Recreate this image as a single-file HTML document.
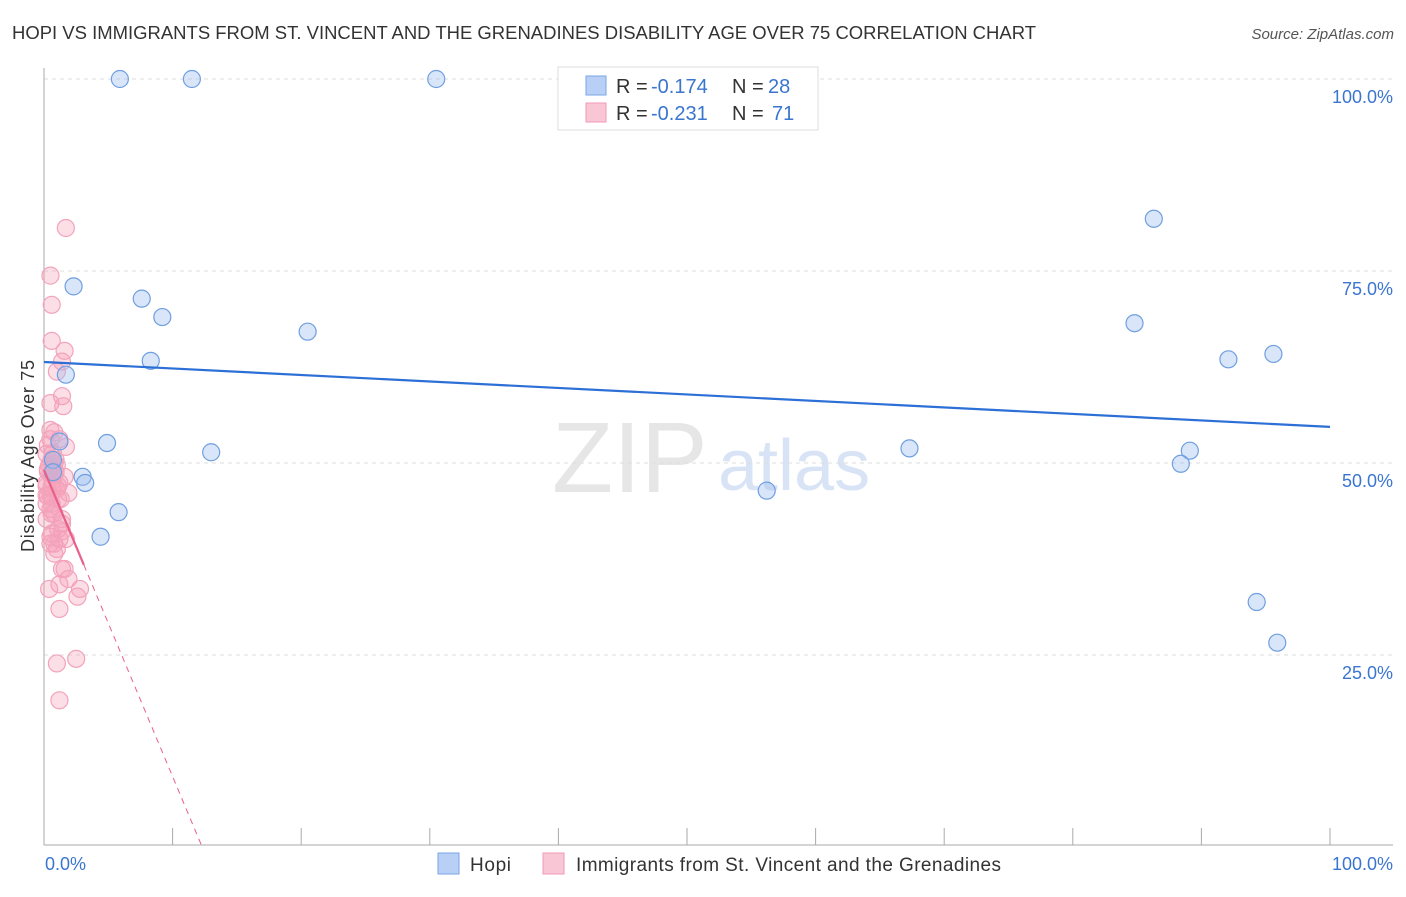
<!DOCTYPE html>
<html><head><meta charset="utf-8"><style>
body{margin:0;background:#fff;font-family:"Liberation Sans",sans-serif;}
svg text{font-family:"Liberation Sans",sans-serif;}
</style></head><body>
<svg id="c" width="1406" height="892" xmlns="http://www.w3.org/2000/svg">
<text x="12" y="39" font-size="18" fill="#333" textLength="1024" lengthAdjust="spacingAndGlyphs">HOPI VS IMMIGRANTS FROM ST. VINCENT AND THE GRENADINES DISABILITY AGE OVER 75 CORRELATION CHART</text>
<text x="1394" y="39" font-size="15" fill="#555" font-style="italic" text-anchor="end">Source: ZipAtlas.com</text>
<text x="552" y="492" font-size="100" fill="#e6e6e6" font-family="Liberation Serif">ZIP</text>
<text x="718" y="490" font-size="72" fill="#d8e4f6">atlas</text>
<g id="grid"></g>
<g id="axes"></g>
<g id="marks"></g>
<text x="34" y="456" font-size="18" fill="#333" text-anchor="middle" transform="rotate(-90 34 456)" textLength="192">Disability Age Over 75</text>
<text x="45" y="870" font-size="18" fill="#3a75d0">0.0%</text>
<text x="1393" y="870" font-size="18" fill="#3a75d0" text-anchor="end">100.0%</text>
<g>
<rect x="558" y="67" width="260" height="63" fill="#fff" stroke="#ddd"/>
<rect x="586" y="76" width="20" height="19" fill="#b8d0f5" stroke="#7aa6e6"/>
<text x="616" y="93" font-size="20" fill="#333">R =</text><text x="651" y="93" font-size="20" fill="#3a75d0">-0.174</text>
<text x="732" y="93" font-size="20" fill="#333">N =</text><text x="768" y="93" font-size="20" fill="#3a75d0">28</text>
<rect x="586" y="103" width="20" height="19" fill="#f9c6d5" stroke="#f09ab5"/>
<text x="616" y="120" font-size="20" fill="#333">R =</text><text x="651" y="120" font-size="20" fill="#3a75d0">-0.231</text>
<text x="732" y="120" font-size="20" fill="#333">N =</text><text x="772" y="120" font-size="20" fill="#3a75d0">71</text>
</g>
<g><rect x="438" y="853" width="21" height="21" fill="#b8d0f5" stroke="#7aa6e6"/><text x="470" y="871" font-size="19" fill="#333" textLength="41">Hopi</text></g>
<g><rect x="543" y="853" width="21" height="21" fill="#f9c6d5" stroke="#f09ab5"/><text x="576" y="871" font-size="19" fill="#333" textLength="425">Immigrants from St. Vincent and the Grenadines</text></g>
</svg>
<script>
const yTicks=[25,50,75,100];
const yTickLabels=["25.0%","50.0%","75.0%","100.0%"];
const hopiX=[5.9,11.5,30.5,86.3,2.3,7.6,9.2,20.5,84.8,8.3,92.1,95.6,1.7,4.9,13.0,67.3,89.1,88.4,3.0,3.2,0.7,0.7,56.2,5.8,4.4,94.3,95.9,1.2];
const hopiY=[100,100,100,81.8,73.0,71.4,69.0,67.1,68.2,63.3,63.5,64.2,61.5,52.6,51.4,51.9,51.6,49.9,48.2,47.4,50.4,48.8,46.4,43.6,40.4,31.9,26.6,52.8];
const pinkX=[1.7,0.5,0.6,0.6,1.6,1.4,1.0,1.4,1.5,0.5,0.8,1.2,1.7,0.5,0.2,0.6,0.8,0.3,0.5,0.7,1.6,0.2,1.0,1.9,0.3,0.6,0.5,0.8,1.4,1.1,0.6,1.2,0.5,1.0,1.6,1.9,1.2,2.8,2.6,1.2,0.4,1.4,1.0,2.5,1.2,0.2,0.2,0.4,0.7,0.9,1.1,1.4,0.8,0.5,0.3,0.6,0.9,1.2,1.3,0.2,0.5,0.8,1.4,1.7,0.3,0.5,0.8,1.0,0.2,0.6,1.1];
const pinkY=[80.6,74.4,70.6,65.9,64.6,63.2,61.9,58.7,57.4,57.8,54.0,53.1,52.1,53.1,51.2,50.5,49.9,49.2,48.6,47.7,48.2,47.0,46.6,46.1,45.7,44.7,44.0,43.4,42.1,41.4,40.8,40.1,39.5,38.8,36.2,34.9,34.2,33.6,32.6,31.0,33.6,36.2,23.9,24.5,19.1,42.7,47.4,49.7,51.3,48.8,45.3,42.7,39.5,54.3,52.3,46.9,50.4,47.4,45.3,44.7,40.4,38.2,41.1,40.1,48.9,45.8,48.4,49.7,45.8,43.4,47.0];
const hopiTrend=[63.15,54.7];
const pinkTrend=[49.1,0];
const pinkTrendEnd=12.3, pinkSolidEnd=3.1;
const X0=44,X1=1330,Y0=847,Y100=79;
const sx=v=>X0+(X1-X0)*v/100, sy=v=>Y0-(Y0-Y100)*v/100;
const NS="http://www.w3.org/2000/svg";
function mk(t,a,p){const e=document.createElementNS(NS,t);for(const k in a)e.setAttribute(k,a[k]);p.appendChild(e);return e;}
const grid=document.getElementById('grid'),axes=document.getElementById('axes'),marks=document.getElementById('marks');
yTicks.forEach((t,i)=>{
 const l=mk('line',{x1:44,x2:1393,y1:sy(t),y2:sy(t),stroke:'#ddd','stroke-dasharray':'4,4'},grid);
 
 
 const tx=mk('text',{x:1393,y:sy(t)+24,'font-size':18,fill:'#3a75d0','text-anchor':'end'},grid);
 tx.textContent=yTickLabels[i];
 
 
});
mk('line',{x1:44,x2:44,y1:68,y2:845,stroke:'#aaa'},axes);
mk('line',{x1:44,x2:1393,y1:845,y2:845,stroke:'#aaa'},axes);
for(let i=0;i<=10;i++){const t=mk('line',{x1:sx(i*10),x2:sx(i*10),y1:828,y2:845,stroke:'#aaa'},axes);
 
 }
pinkX.forEach((x,i)=>{const c=mk('circle',{cx:sx(x),cy:sy(pinkY[i]),r:8.5,fill:'rgba(245,160,185,0.35)',stroke:'#f2a3bb','stroke-width':1.2},marks);
 
 });
hopiX.forEach((x,i)=>{const c=mk('circle',{cx:sx(x),cy:sy(hopiY[i]),r:8.5,fill:'rgba(160,190,240,0.4)',stroke:'#6f9fe0','stroke-width':1.2},marks);
 
 });
const pt=x=>pinkTrend[0]+(pinkTrend[1]-pinkTrend[0])*x/pinkTrendEnd;
const bl=mk('line',{x1:sx(0),y1:sy(hopiTrend[0]),x2:sx(100),y2:sy(hopiTrend[1]),stroke:'#2c6fd6','stroke-width':2.2},marks);


const pl=mk('line',{x1:sx(0),y1:sy(pt(0)),x2:sx(pinkSolidEnd),y2:sy(pt(pinkSolidEnd)),stroke:'#e8608a','stroke-width':2.2},marks);


const pd=mk('line',{x1:sx(pinkSolidEnd),y1:sy(pt(pinkSolidEnd)),x2:sx(pinkTrendEnd),y2:sy(pt(pinkTrendEnd)),stroke:'#e8608a','stroke-width':1,'stroke-dasharray':'6,5'},marks);


</script>
</body></html>
